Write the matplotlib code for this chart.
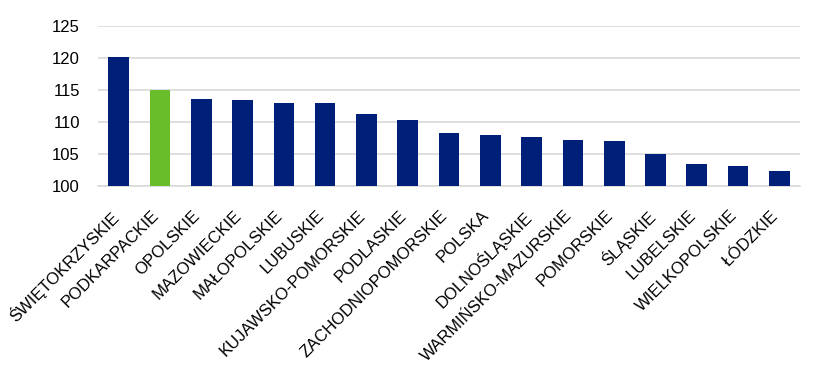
import matplotlib
matplotlib.use("Agg")
import matplotlib.pyplot as plt
import matplotlib.transforms as mtransforms

categories = ["ŚWIĘTOKRZYSKIE", "PODKARPACKIE", "OPOLSKIE", "MAZOWIECKIE", "MAŁOPOLSKIE",
              "LUBUSKIE", "KUJAWSKO-POMORSKIE", "PODLASKIE", "ZACHODNIOPOMORSKIE", "POLSKA",
              "DOLNOŚLĄSKIE", "WARMIŃSKO-MAZURSKIE", "POMORSKIE", "ŚLĄSKIE", "LUBELSKIE",
              "WIELKOPOLSKIE", "ŁÓDZKIE"]
values = [120.2, 115.0, 113.6, 113.5, 113.0, 113.0, 111.3, 110.4, 108.3, 108.0,
          107.7, 107.2, 107.1, 105.0, 103.5, 103.2, 102.4]
highlight = "PODKARPACKIE"
yticks = [100, 105, 110, 115, 120, 125]

plt.rcParams['font.family'] = ['Liberation Sans', 'DejaVu Sans']

fig = plt.figure(figsize=(8.32, 3.75), dpi=100)
ax = fig.add_axes([98/832, 1 - 186.3/375, 702/832, 160.3/375])

colors = ["#6abd2a" if c == highlight else "#001f78" for c in categories]
x = list(range(len(categories)))
ax.bar(x, values, width=0.5, color=colors, zorder=3)

ax.set_ylim(100, 125)
ax.set_xlim(-0.5, len(categories) - 0.5)
ax.set_yticks(yticks)
ax.yaxis.grid(True, color="#d9d9d9", linewidth=1.2, zorder=0)
ax.set_axisbelow(True)
for s in ["top", "right", "left"]:
    ax.spines[s].set_visible(False)
ax.spines["bottom"].set_color("#d9d9d9")
ax.spines["bottom"].set_linewidth(1.2)
ax.tick_params(axis="y", length=0, labelsize=12, pad=13)
ax.tick_params(axis="x", length=0, labelsize=12, pad=14)
ax.set_xticks(x)
ax.set_xticklabels(categories, rotation=45, ha="right", rotation_mode="anchor")
offset = mtransforms.ScaledTranslation(-0.09, -0.02, fig.dpi_scale_trans)
for lab in ax.get_xticklabels():
    lab.set_transform(lab.get_transform() + offset)

fig.savefig("out.png", dpi=100, facecolor="white")
